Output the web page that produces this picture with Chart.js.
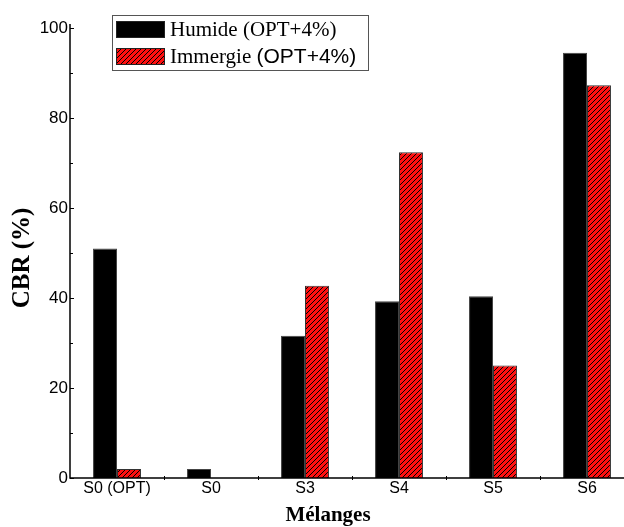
<!DOCTYPE html>
<html>
<head>
<meta charset="utf-8">
<script src="https://cdn.jsdelivr.net/npm/chart.js@4/dist/chart.umd.min.js"></script>
<style>
  html, body { margin: 0; padding: 0; background: #fff; overflow: hidden; }
  canvas { display: block; }
</style>
</head>
<body>
<canvas id="c" width="640" height="527"></canvas>
<script>
// CBR values per mixture
const categories = ['S0 (OPT)', 'S0', 'S3', 'S4', 'S5', 'S6'];
const humide   = [51, 2, 31.6, 39.3, 40.4, 94.5];
const immergie = [2, 0, 42.7, 72.4, 25, 87.3];
const yTicks = [0, 20, 40, 60, 80, 100];
const seriesNames = ['Humide (OPT+4%)', 'Immergie (OPT+4%)'];

// red fill with black diagonal hatching
function hatch() {
  const s = 5;
  const p = document.createElement('canvas');
  p.width = s; p.height = s;
  const g = p.getContext('2d');
  g.fillStyle = '#ff1010';
  g.fillRect(0, 0, s, s);
  g.strokeStyle = '#000';
  g.lineWidth = 1;
  g.beginPath();
  g.moveTo(-1, s + 1); g.lineTo(s + 1, -1);
  g.moveTo(-1, 1); g.lineTo(1, -1);
  g.moveTo(s - 1, s + 1); g.lineTo(s + 1, s - 1);
  g.stroke();
  return g.createPattern(p, 'repeat');
}
const redHatch = hatch();

const ctx = document.getElementById('c').getContext('2d');

// axis lines, inside ticks, titles and legend box
const decor = {
  id: 'decor',
  afterDraw(chart) {
    const c = chart.ctx;
    const ca = chart.chartArea;
    const y = chart.scales.y, x = chart.scales.x;
    c.save();
    c.strokeStyle = '#000';
    c.lineWidth = 1.5;
    c.beginPath();
    c.moveTo(ca.left, y.getPixelForValue(100) - 4);
    c.lineTo(ca.left, ca.bottom);
    c.lineTo(ca.right, ca.bottom);
    c.stroke();
    c.lineWidth = 1;
    c.beginPath();
    for (let v = 0; v <= 100; v += 10) {
      const py = Math.round(y.getPixelForValue(v)) + 0.5;
      c.moveTo(ca.left, py);
      c.lineTo(ca.left + (v % 20 === 0 ? 4 : 3), py);
    }
    for (let i = 1; i < categories.length; i++) {
      const px = Math.round((x.getPixelForTick(i - 1) + x.getPixelForTick(i)) / 2) + 0.5;
      c.moveTo(px, ca.bottom - 2);
      c.lineTo(px, ca.bottom + 2);
    }
    c.stroke();

    // axis titles
    c.fillStyle = '#000';
    c.textAlign = 'center';
    c.textBaseline = 'middle';
    c.font = 'bold 21px "Liberation Serif", "Times New Roman", serif';
    c.fillText('Mélanges', 328, 516);
    c.translate(23, 258);
    c.rotate(-Math.PI / 2);
    c.font = 'bold 25px "Liberation Serif", "Times New Roman", serif';
    c.fillText('CBR (%)', 0, 0);
    c.restore();

    // legend
    c.save();
    c.fillStyle = '#fff';
    c.fillRect(112, 15, 256, 55);
    c.strokeStyle = '#555';
    c.lineWidth = 1;
    c.strokeRect(112.5, 15.5, 256, 55);
    const sw = [[116, 21], [116, 48]];
    const fills = ['#000', redHatch];
    for (let i = 0; i < 2; i++) {
      c.fillStyle = fills[i];
      c.fillRect(sw[i][0], sw[i][1], 49, 17);
      c.strokeStyle = '#222';
      c.strokeRect(sw[i][0] + 0.5, sw[i][1] + 0.5, 48, 16);
    }
    c.fillStyle = '#000';
    c.textBaseline = 'alphabetic';
    c.textAlign = 'left';
    c.font = '21px "Liberation Serif", "Times New Roman", serif';
    c.fillText(seriesNames[0], 170, 36);
    const cut = seriesNames[1].indexOf('(');
    const word = seriesNames[1].slice(0, cut);
    c.fillText(word, 170, 63);
    const w = c.measureText(word).width;
    c.font = '21px "Liberation Sans", Arial, sans-serif';
    c.fillText(seriesNames[1].slice(cut), 170 + w, 63);
    c.restore();
  }
};

new Chart(ctx, {
  type: 'bar',
  data: {
    labels: categories,
    datasets: [
      { label: seriesNames[0], data: humide, backgroundColor: '#000', borderColor: '#444', borderWidth: 1, borderSkipped: 'bottom' },
      { label: seriesNames[1], data: immergie, backgroundColor: redHatch, borderColor: '#333', borderWidth: 1, borderSkipped: 'bottom' }
    ]
  },
  options: {
    responsive: false,
    animation: false,
    layout: { padding: { left: 0, right: 6, top: 28, bottom: 0 } },
    categoryPercentage: 0.51,
    barPercentage: 1,
    plugins: { legend: { display: false }, tooltip: { enabled: false } },
    scales: {
      x: {
        grid: { display: false, drawTicks: false },
        border: { display: false },
        ticks: { color: '#000', padding: 1, font: { family: '"Liberation Sans", Arial, sans-serif', size: 16 } },
        afterFit(s) { s.height = 49; }
      },
      y: {
        min: 0, max: 100,
        afterBuildTicks(s) { s.ticks = yTicks.map(v => ({ value: v })); },
        grid: { display: false, drawTicks: false },
        border: { display: false },
        ticks: { color: '#000', padding: 2, font: { family: '"Liberation Sans", Arial, sans-serif', size: 17 } },
        afterFit(s) { s.width = 70; }
      }
    }
  },
  plugins: [decor]
});
</script>
</body>
</html>
